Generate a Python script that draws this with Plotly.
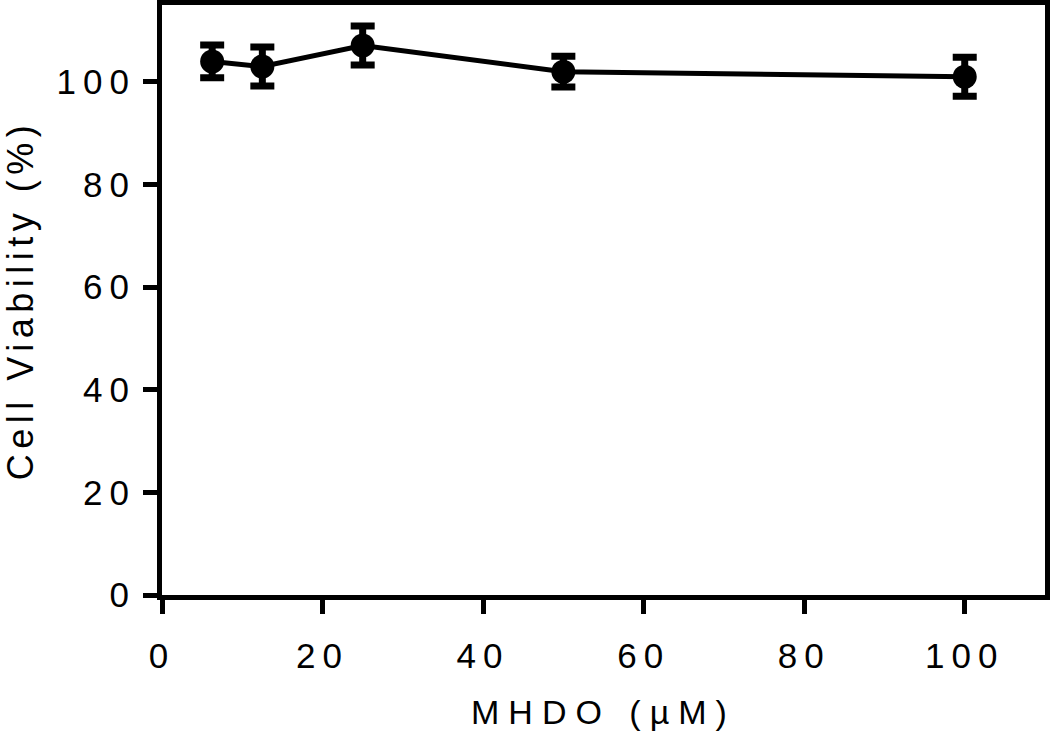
import plotly.graph_objects as go

# Data
concentrations = [6.25, 12.5, 25, 50, 100]          # MHDO (µM)
viability = [104.0, 103.0, 107.1, 102.0, 101.0]     # Cell viability (%)
viability_err = [3.2, 3.8, 3.8, 3.0, 3.8]           # error (SD)

x_tick_vals = [0, 20, 40, 60, 80, 100]
y_tick_vals = [0, 20, 40, 60, 80, 100]
x_title = "MHDO (µM)"
y_title = "Cell Viability (%)"

fig = go.Figure()
fig.add_trace(go.Scatter(
    x=concentrations,
    y=viability,
    mode="lines+markers",
    line=dict(color="black", width=5),
    marker=dict(color="black", size=24, symbol="circle"),
    error_y=dict(type="data", array=viability_err, visible=True,
                 color="black", thickness=7, width=12),
    showlegend=False,
))

axis_common = dict(
    showline=True, linecolor="black", linewidth=5, mirror=True,
    ticks="outside", tickcolor="black", tickwidth=5, ticklen=14,
    showgrid=False, zeroline=False,
)

fig.update_xaxes(
    range=[0, 110], tickvals=x_tick_vals,
    tickfont=dict(family="Liberation Sans, Arial", size=35, color="black"),
    ticklabelstandoff=12,
    title=dict(text=x_title, font=dict(family="Liberation Sans, Arial", size=34, color="black"), standoff=28),
    **axis_common,
)
fig.update_yaxes(
    range=[0, 115], tickvals=y_tick_vals,
    tickfont=dict(family="Liberation Sans, Arial", size=35, color="black"),
    ticklabelstandoff=0,
    title=dict(text=y_title, font=dict(family="Liberation Sans, Arial", size=36, color="black"), standoff=45),
    **axis_common,
)

fig.update_layout(
    width=1050, height=738,
    margin=dict(l=162, r=3, t=0, b=143),
    plot_bgcolor="white", paper_bgcolor="white",
)

post_js = """
document.body.style.margin='0';
document.body.style.padding='0';
var gd = document.getElementById('{plot_id}');
function applySpacing(){
  gd.querySelectorAll('.xtick text').forEach(function(e){e.style.letterSpacing='7px';});
  gd.querySelectorAll('.ytick text').forEach(function(e){e.style.letterSpacing='7px';});
  gd.querySelectorAll('.g-xtitle text').forEach(function(e){e.style.letterSpacing='9px';});
  gd.querySelectorAll('.g-ytitle text').forEach(function(e){e.style.letterSpacing='5.5px';});
}
applySpacing();
gd.on('plotly_afterplot', applySpacing);
"""

fig.write_html("out.html", post_script=post_js, config={"displayModeBar": False})
